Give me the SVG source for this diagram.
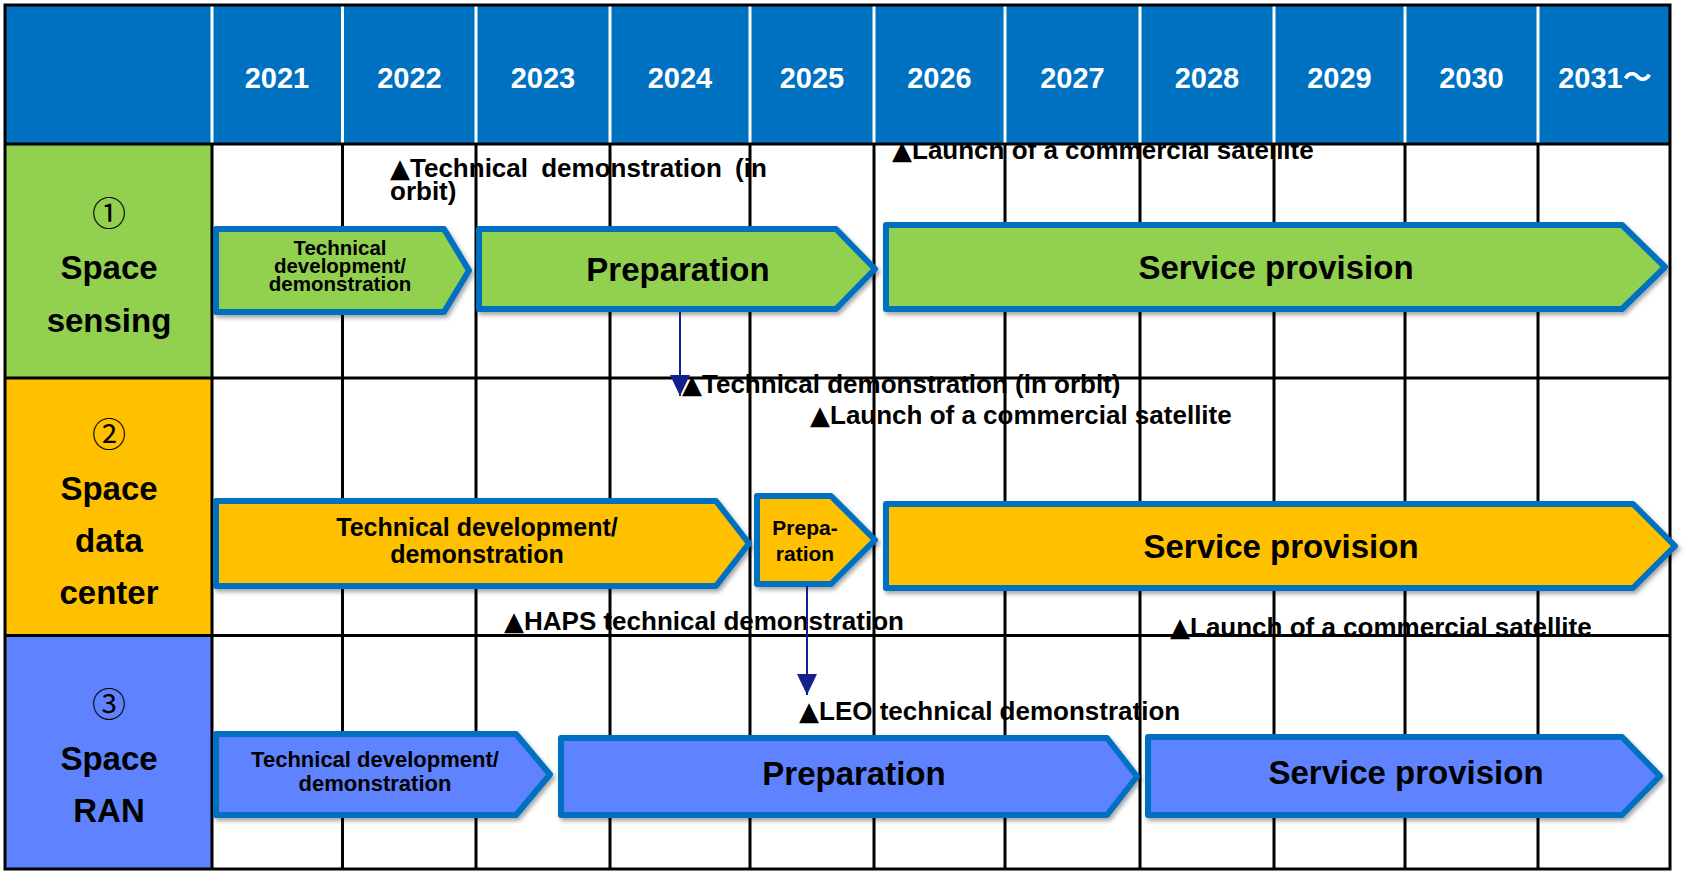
<svg xmlns="http://www.w3.org/2000/svg" width="1689" height="877" viewBox="0 0 1689 877">
<defs>
<style>
.hdr{fill:#0070C0}
.yr{font-family:"Liberation Sans",Arial,sans-serif;font-weight:bold;font-size:29px;fill:#fff;text-anchor:middle}
.lbl{font-family:"Liberation Sans",Arial,sans-serif;font-weight:bold;font-size:33px;fill:#000;text-anchor:middle}
.num{font-family:"Noto Sans CJK JP",sans-serif;font-size:34px;fill:#000;text-anchor:middle}
.bar{stroke:#0070C0;stroke-width:6;stroke-linejoin:round;filter:url(#sh)}
.g{fill:#92D050}.o{fill:#FFC000}.b{fill:#5F83FF}
.bt{font-family:"Liberation Sans",Arial,sans-serif;font-weight:bold;fill:#000;text-anchor:middle}
.big{font-size:33px}
.ann{font-family:"Liberation Sans",Arial,sans-serif;font-weight:bold;font-size:26px;fill:#000}
.tri{font-family:"DejaVu Sans",sans-serif;font-size:26px}
.grid{stroke:#000;stroke-width:3;fill:none}
.wl{stroke:#fff;stroke-width:3}
.con{stroke:#14218C;stroke-width:2;fill:none;marker-end:url(#ah)}
</style>
<filter id="sh" x="-5%" y="-20%" width="110%" height="150%">
<feDropShadow dx="2" dy="3" stdDeviation="2" flood-color="#000" flood-opacity="0.35"/>
</filter>
<marker id="ah" viewBox="0 0 21 20" refX="21" refY="10" markerWidth="21" markerHeight="20" markerUnits="userSpaceOnUse" orient="auto">
<path d="M0,0 L21,10 L0,20 Z" fill="#14218C"/>
</marker>
</defs>
<rect width="1689" height="877" fill="#fff"/>
<g id="milestones">
<text class="ann" x="390" y="177" word-spacing="6"><tspan class="tri">▲</tspan>Technical demonstration (in</text>
<text class="ann" x="390" y="200">orbit)</text>
<text class="ann" x="892" y="159"><tspan class="tri">▲</tspan>Launch of a commercial satellite</text>
<text class="ann" x="682" y="393"><tspan class="tri">▲</tspan>Technical demonstration (in orbit)</text>
<text class="ann" x="810" y="424"><tspan class="tri">▲</tspan>Launch of a commercial satellite</text>
<text class="ann" x="504" y="630"><tspan class="tri">▲</tspan>HAPS technical demonstration</text>
<text class="ann" x="1170" y="636"><tspan class="tri">▲</tspan>Launch of a commercial satellite</text>
<text class="ann" x="799" y="720"><tspan class="tri">▲</tspan>LEO technical demonstration</text>
</g>
<g id="table">
<rect class="hdr" x="5" y="5" width="1665" height="139"/>
<rect x="5" y="144" width="207" height="234" fill="#92D050"/>
<rect x="5" y="378" width="207" height="257.5" fill="#FFC000"/>
<rect x="5" y="635.5" width="207" height="233.5" fill="#5F83FF"/>
<g class="wl">
<line x1="212" y1="5" x2="212" y2="144"/><line x1="342.5" y1="5" x2="342.5" y2="144"/>
<line x1="476" y1="5" x2="476" y2="144"/><line x1="610" y1="5" x2="610" y2="144"/>
<line x1="750" y1="5" x2="750" y2="144"/><line x1="874" y1="5" x2="874" y2="144"/>
<line x1="1005" y1="5" x2="1005" y2="144"/><line x1="1140" y1="5" x2="1140" y2="144"/>
<line x1="1274" y1="5" x2="1274" y2="144"/><line x1="1405" y1="5" x2="1405" y2="144"/>
<line x1="1538" y1="5" x2="1538" y2="144"/>
</g>
<g class="grid">
<line x1="212" y1="144" x2="212" y2="869"/><line x1="342.5" y1="144" x2="342.5" y2="869"/>
<line x1="476" y1="144" x2="476" y2="869"/><line x1="610" y1="144" x2="610" y2="869"/>
<line x1="750" y1="144" x2="750" y2="869"/><line x1="874" y1="144" x2="874" y2="869"/>
<line x1="1005" y1="144" x2="1005" y2="869"/><line x1="1140" y1="144" x2="1140" y2="869"/>
<line x1="1274" y1="144" x2="1274" y2="869"/><line x1="1405" y1="144" x2="1405" y2="869"/>
<line x1="1538" y1="144" x2="1538" y2="869"/>
<line x1="5" y1="144" x2="1670" y2="144"/><line x1="5" y1="378" x2="1670" y2="378"/>
<line x1="5" y1="635.5" x2="1670" y2="635.5"/>
<rect x="5" y="5" width="1665" height="864"/>
</g>
<text class="yr" x="277" y="88">2021</text>
<text class="yr" x="409.5" y="88">2022</text>
<text class="yr" x="543" y="88">2023</text>
<text class="yr" x="680" y="88">2024</text>
<text class="yr" x="812" y="88">2025</text>
<text class="yr" x="939.5" y="88">2026</text>
<text class="yr" x="1072.5" y="88">2027</text>
<text class="yr" x="1207" y="88">2028</text>
<text class="yr" x="1339.5" y="88">2029</text>
<text class="yr" x="1471.5" y="88">2030</text>
<text class="yr" x="1605" y="88">2031<tspan font-family="Noto Sans CJK JP,sans-serif">〜</tspan></text>
</g>
<g id="row1-label">
<text class="num" x="109" y="226">①</text>
<text class="lbl" x="109" y="279">Space</text>
<text class="lbl" x="109" y="332">sensing</text>
</g>
<g id="row2-label">
<text class="num" x="109" y="447">②</text>
<text class="lbl" x="109" y="500">Space</text>
<text class="lbl" x="109" y="552">data</text>
<text class="lbl" x="109" y="604">center</text>
</g>
<g id="row3-label">
<text class="num" x="109" y="717">③</text>
<text class="lbl" x="109" y="770">Space</text>
<text class="lbl" x="109" y="822">RAN</text>
</g>
<g id="s-dev">
<path class="bar g" d="M216,229 H444 L469,270.5 L444,312 H216 Z"/>
<text class="bt" font-size="20.5" x="340"><tspan x="340" y="254.5">Technical</tspan><tspan x="340" y="272.5">development/</tspan><tspan x="340" y="290.5">demonstration</tspan></text>
</g>
<g id="s-prep">
<path class="bar g" d="M479,229 H836 L875,269 L836,309 H479 Z"/>
<text class="bt big" x="678" y="281">Preparation</text>
</g>
<g id="s-serv">
<path class="bar g" d="M886,225 H1622 L1665,267 L1622,309 H886 Z"/>
<text class="bt big" x="1276" y="279">Service provision</text>
</g>
<g id="d-dev">
<path class="bar o" d="M216,501 H716 L749,543.5 L716,586 H216 Z"/>
<text class="bt" font-size="25"><tspan x="477" y="536">Technical development/</tspan><tspan x="477" y="563">demonstration</tspan></text>
</g>
<g id="d-prep">
<path class="bar o" d="M757,496 H831 L875,540 L831,584 H757 Z"/>
<text class="bt" font-size="21"><tspan x="805" y="535">Prepa-</tspan><tspan x="805" y="560.5">ration</tspan></text>
</g>
<g id="d-serv">
<path class="bar o" d="M886,504 H1633 L1675,546 L1633,588 H886 Z"/>
<text class="bt big" x="1281" y="558">Service provision</text>
</g>
<g id="r-dev">
<path class="bar b" d="M216,734 H516 L550,774.5 L516,815 H216 Z"/>
<text class="bt" font-size="22"><tspan x="375" y="767">Technical development/</tspan><tspan x="375" y="791">demonstration</tspan></text>
</g>
<g id="r-prep">
<path class="bar b" d="M561,738 H1107 L1137,776.5 L1107,815 H561 Z"/>
<text class="bt big" x="854" y="785">Preparation</text>
</g>
<g id="r-serv">
<path class="bar b" d="M1148,737 H1622 L1660,776 L1622,815 H1148 Z"/>
<text class="bt big" x="1406" y="784">Service provision</text>
</g>
<g id="connectors">
<line class="con" x1="680" y1="312" x2="680" y2="396"/>
<line class="con" x1="807" y1="586" x2="807" y2="695"/>
</g>
</svg>
